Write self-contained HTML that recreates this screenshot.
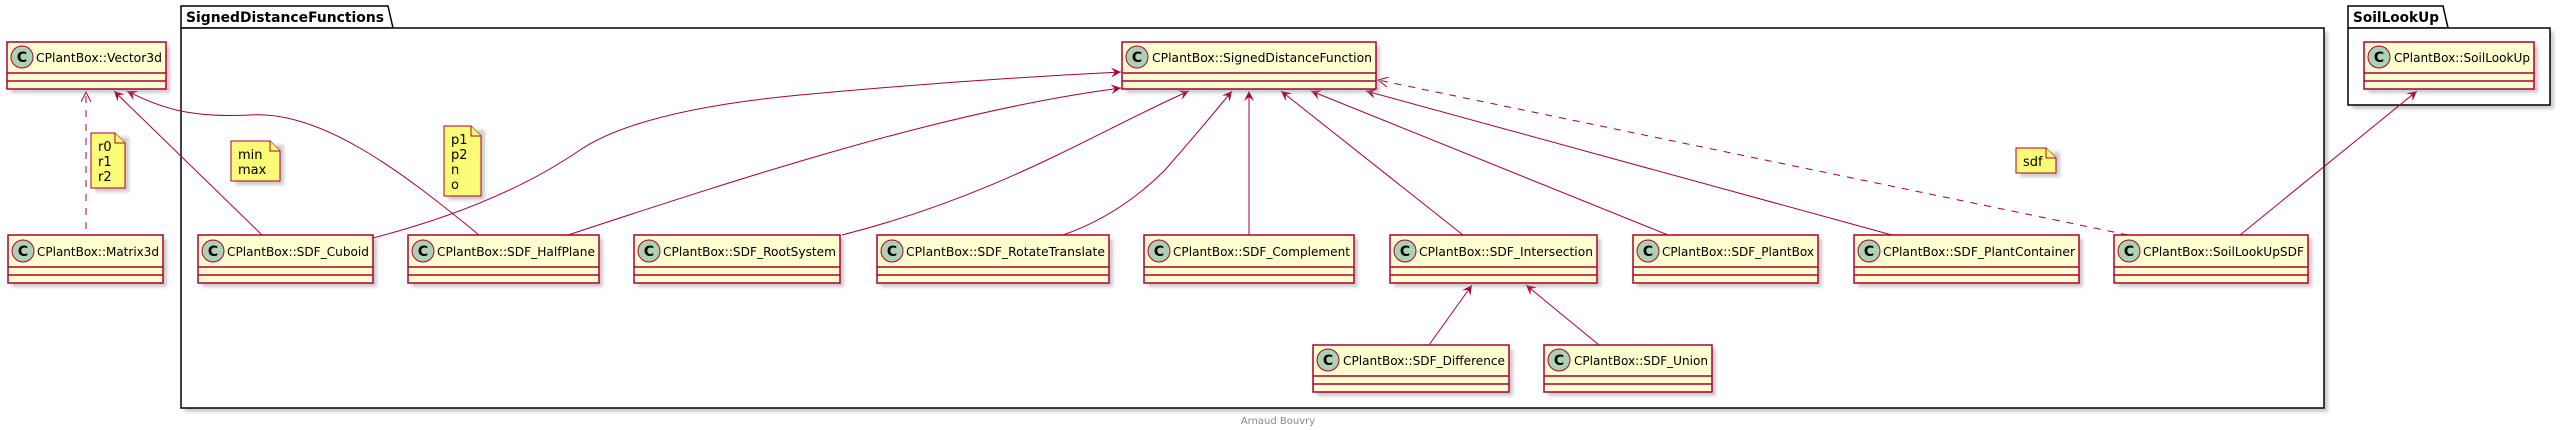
<!DOCTYPE html>
<html><head><meta charset="utf-8"><style>
html,body{margin:0;padding:0;background:#fff;}
svg{display:block;}
text{font-family:"DejaVu Sans","Liberation Sans",sans-serif;}
</style></head><body>
<svg width="2566" height="430" viewBox="0 0 2566 430" xmlns="http://www.w3.org/2000/svg">
<defs>
<marker id="ah" markerWidth="12" markerHeight="10" refX="10" refY="5" orient="auto" markerUnits="userSpaceOnUse">
<path d="M10,5 L0,0 L4,5 L0,10 Z" fill="#A80036"/>
</marker>
<marker id="ah2" markerWidth="12" markerHeight="10" refX="10" refY="5" orient="auto" markerUnits="userSpaceOnUse">
<path d="M0,0 L10,5 L0,10" fill="none" stroke="#A80036" stroke-width="1"/>
</marker>
<filter id="sh" x="-10%" y="-10%" width="130%" height="140%"><feGaussianBlur stdDeviation="1.5"/></filter>
</defs>

<g>
<rect x="185" y="32" width="2143" height="380" fill="#999" opacity="0.5" filter="url(#sh)"/>
<path d="M181,28 L181,6 L388,6 L393,28 Z" fill="#fff" stroke="#000" stroke-width="1.5"/>
<rect x="181" y="28" width="2143" height="380" fill="#fff" stroke="#000" stroke-width="1.5"/>
<text x="186" y="22" font-size="14" font-weight="bold" textLength="198" lengthAdjust="spacingAndGlyphs">SignedDistanceFunctions</text>

<rect x="2352" y="32" width="202" height="77" fill="#999" opacity="0.5" filter="url(#sh)"/>
<path d="M2348,28 L2348,6 L2443,6 L2448,28 Z" fill="#fff" stroke="#000" stroke-width="1.5"/>
<rect x="2348" y="28" width="202" height="77" fill="#fff" stroke="#000" stroke-width="1.5"/>
<text x="2353" y="22" font-size="14" font-weight="bold" textLength="86" lengthAdjust="spacingAndGlyphs">SoilLookUp</text>
</g>

<g fill="none" stroke="#A80036" stroke-width="1">
<path d="M86,229 L86,92" stroke-dasharray="7,7" marker-end="url(#ah2)"/>
<path d="M262,235 L114,91" marker-end="url(#ah)"/>
<path d="M479,235 C400,170 320,110 250,115 C190,118 160,108 127,91" marker-end="url(#ah)"/>
<path d="M373,238 Q500,205 580,150 Q640,110 800,95 Q960,80 1121,72" marker-end="url(#ah)"/>
<path d="M568,235 C750,175 950,110 1121,88" marker-end="url(#ah)"/>
<path d="M842,235 C1000,195 1100,130 1189,91" marker-end="url(#ah)"/>
<path d="M1063,235 Q1120,215 1165,170 Q1200,130 1232,91" marker-end="url(#ah)"/>
<path d="M1249,235 L1249,91" marker-end="url(#ah)"/>
<path d="M1463,235 L1281,91" marker-end="url(#ah)"/>
<path d="M1668,235 L1311,91" marker-end="url(#ah)"/>
<path d="M1892,235 L1366,91" marker-end="url(#ah)"/>
<path d="M2128,235 L1378,80" stroke-dasharray="7,7" marker-end="url(#ah2)"/>
<path d="M1429,345 L1472,285" marker-end="url(#ah)"/>
<path d="M1599,345 L1526,285" marker-end="url(#ah)"/>
<path d="M2240,235 L2417,91" marker-end="url(#ah)"/>
</g>

<g font-size="13" fill="#000">
<g>
<path d="M95,137 L129,137 L129,192 L95,192 Z" fill="#999" opacity="0.5" filter="url(#sh)"/>
<path d="M91,133 L115,133 L125,143 L125,188 L91,188 Z" fill="#FBFB77" stroke="#A80036"/>
<path d="M115,133 L115,143 L125,143" fill="#FBFB77" stroke="#A80036"/>
<text x="98" y="151">r0</text><text x="98" y="166">r1</text><text x="98" y="181">r2</text>
</g>
<g>
<path d="M235,145 L284,145 L284,185 L235,185 Z" fill="#999" opacity="0.5" filter="url(#sh)"/>
<path d="M231,141 L270,141 L280,151 L280,181 L231,181 Z" fill="#FBFB77" stroke="#A80036"/>
<path d="M270,141 L270,151 L280,151" fill="#FBFB77" stroke="#A80036"/>
<text x="238" y="159">min</text><text x="238" y="174">max</text>
</g>
<g>
<path d="M448,130 L485,130 L485,200 L448,200 Z" fill="#999" opacity="0.5" filter="url(#sh)"/>
<path d="M444,126 L471,126 L481,136 L481,196 L444,196 Z" fill="#FBFB77" stroke="#A80036"/>
<path d="M471,126 L471,136 L481,136" fill="#FBFB77" stroke="#A80036"/>
<text x="451" y="144">p1</text><text x="451" y="159">p2</text><text x="451" y="174">n</text><text x="451" y="189">o</text>
</g>
<g>
<path d="M2020,152 L2060,152 L2060,177 L2020,177 Z" fill="#999" opacity="0.5" filter="url(#sh)"/>
<path d="M2016,148 L2046,148 L2056,158 L2056,173 L2016,173 Z" fill="#FBFB77" stroke="#A80036"/>
<path d="M2046,148 L2046,158 L2056,158" fill="#FBFB77" stroke="#A80036"/>
<text x="2023" y="166">sdf</text>
</g>
</g>

<g font-size="12">
<g><rect x="11" y="46" width="159" height="47" fill="#999" opacity="0.5" filter="url(#sh)"/><rect x="7" y="42" width="159" height="47" fill="#FEFECE" stroke="#A80036" stroke-width="1.5"/><line x1="7" y1="73" x2="166" y2="73" stroke="#A80036" stroke-width="1.5"/><line x1="7" y1="81" x2="166" y2="81" stroke="#A80036" stroke-width="1.5"/><circle cx="22" cy="57" r="11" fill="#ADD1B2" stroke="#A80036"/><text x="22" y="62" font-size="14" font-weight="bold" text-anchor="middle">C</text><text x="36" y="62" textLength="126" lengthAdjust="spacingAndGlyphs">CPlantBox::Vector3d</text></g>

<g><rect x="12" y="239" width="155" height="48" fill="#999" opacity="0.5" filter="url(#sh)"/><rect x="8" y="235" width="155" height="48" fill="#FEFECE" stroke="#A80036" stroke-width="1.5"/><line x1="8" y1="267" x2="163" y2="267" stroke="#A80036" stroke-width="1.5"/><line x1="8" y1="275" x2="163" y2="275" stroke="#A80036" stroke-width="1.5"/><circle cx="23" cy="251" r="11" fill="#ADD1B2" stroke="#A80036"/><text x="23" y="256" font-size="14" font-weight="bold" text-anchor="middle">C</text><text x="37" y="256" textLength="122" lengthAdjust="spacingAndGlyphs">CPlantBox::Matrix3d</text></g>

<g><rect x="202" y="239" width="175" height="48" fill="#999" opacity="0.5" filter="url(#sh)"/><rect x="198" y="235" width="175" height="48" fill="#FEFECE" stroke="#A80036" stroke-width="1.5"/><line x1="198" y1="267" x2="373" y2="267" stroke="#A80036" stroke-width="1.5"/><line x1="198" y1="275" x2="373" y2="275" stroke="#A80036" stroke-width="1.5"/><circle cx="213" cy="251" r="11" fill="#ADD1B2" stroke="#A80036"/><text x="213" y="256" font-size="14" font-weight="bold" text-anchor="middle">C</text><text x="227" y="256" textLength="142" lengthAdjust="spacingAndGlyphs">CPlantBox::SDF_Cuboid</text></g>

<g><rect x="412" y="239" width="191" height="48" fill="#999" opacity="0.5" filter="url(#sh)"/><rect x="408" y="235" width="191" height="48" fill="#FEFECE" stroke="#A80036" stroke-width="1.5"/><line x1="408" y1="267" x2="599" y2="267" stroke="#A80036" stroke-width="1.5"/><line x1="408" y1="275" x2="599" y2="275" stroke="#A80036" stroke-width="1.5"/><circle cx="423" cy="251" r="11" fill="#ADD1B2" stroke="#A80036"/><text x="423" y="256" font-size="14" font-weight="bold" text-anchor="middle">C</text><text x="437" y="256" textLength="158" lengthAdjust="spacingAndGlyphs">CPlantBox::SDF_HalfPlane</text></g>

<g><rect x="638" y="239" width="206" height="48" fill="#999" opacity="0.5" filter="url(#sh)"/><rect x="634" y="235" width="206" height="48" fill="#FEFECE" stroke="#A80036" stroke-width="1.5"/><line x1="634" y1="267" x2="840" y2="267" stroke="#A80036" stroke-width="1.5"/><line x1="634" y1="275" x2="840" y2="275" stroke="#A80036" stroke-width="1.5"/><circle cx="649" cy="251" r="11" fill="#ADD1B2" stroke="#A80036"/><text x="649" y="256" font-size="14" font-weight="bold" text-anchor="middle">C</text><text x="663" y="256" textLength="173" lengthAdjust="spacingAndGlyphs">CPlantBox::SDF_RootSystem</text></g>

<g><rect x="881" y="239" width="232" height="48" fill="#999" opacity="0.5" filter="url(#sh)"/><rect x="877" y="235" width="232" height="48" fill="#FEFECE" stroke="#A80036" stroke-width="1.5"/><line x1="877" y1="267" x2="1109" y2="267" stroke="#A80036" stroke-width="1.5"/><line x1="877" y1="275" x2="1109" y2="275" stroke="#A80036" stroke-width="1.5"/><circle cx="892" cy="251" r="11" fill="#ADD1B2" stroke="#A80036"/><text x="892" y="256" font-size="14" font-weight="bold" text-anchor="middle">C</text><text x="906" y="256" textLength="199" lengthAdjust="spacingAndGlyphs">CPlantBox::SDF_RotateTranslate</text></g>

<g><rect x="1148" y="239" width="210" height="48" fill="#999" opacity="0.5" filter="url(#sh)"/><rect x="1144" y="235" width="210" height="48" fill="#FEFECE" stroke="#A80036" stroke-width="1.5"/><line x1="1144" y1="267" x2="1354" y2="267" stroke="#A80036" stroke-width="1.5"/><line x1="1144" y1="275" x2="1354" y2="275" stroke="#A80036" stroke-width="1.5"/><circle cx="1159" cy="251" r="11" fill="#ADD1B2" stroke="#A80036"/><text x="1159" y="256" font-size="14" font-weight="bold" text-anchor="middle">C</text><text x="1173" y="256" textLength="177" lengthAdjust="spacingAndGlyphs">CPlantBox::SDF_Complement</text></g>

<g><rect x="1394" y="239" width="207" height="48" fill="#999" opacity="0.5" filter="url(#sh)"/><rect x="1390" y="235" width="207" height="48" fill="#FEFECE" stroke="#A80036" stroke-width="1.5"/><line x1="1390" y1="267" x2="1597" y2="267" stroke="#A80036" stroke-width="1.5"/><line x1="1390" y1="275" x2="1597" y2="275" stroke="#A80036" stroke-width="1.5"/><circle cx="1405" cy="251" r="11" fill="#ADD1B2" stroke="#A80036"/><text x="1405" y="256" font-size="14" font-weight="bold" text-anchor="middle">C</text><text x="1419" y="256" textLength="174" lengthAdjust="spacingAndGlyphs">CPlantBox::SDF_Intersection</text></g>

<g><rect x="1637" y="239" width="185" height="48" fill="#999" opacity="0.5" filter="url(#sh)"/><rect x="1633" y="235" width="185" height="48" fill="#FEFECE" stroke="#A80036" stroke-width="1.5"/><line x1="1633" y1="267" x2="1818" y2="267" stroke="#A80036" stroke-width="1.5"/><line x1="1633" y1="275" x2="1818" y2="275" stroke="#A80036" stroke-width="1.5"/><circle cx="1648" cy="251" r="11" fill="#ADD1B2" stroke="#A80036"/><text x="1648" y="256" font-size="14" font-weight="bold" text-anchor="middle">C</text><text x="1662" y="256" textLength="152" lengthAdjust="spacingAndGlyphs">CPlantBox::SDF_PlantBox</text></g>

<g><rect x="1858" y="239" width="225" height="48" fill="#999" opacity="0.5" filter="url(#sh)"/><rect x="1854" y="235" width="225" height="48" fill="#FEFECE" stroke="#A80036" stroke-width="1.5"/><line x1="1854" y1="267" x2="2079" y2="267" stroke="#A80036" stroke-width="1.5"/><line x1="1854" y1="275" x2="2079" y2="275" stroke="#A80036" stroke-width="1.5"/><circle cx="1869" cy="251" r="11" fill="#ADD1B2" stroke="#A80036"/><text x="1869" y="256" font-size="14" font-weight="bold" text-anchor="middle">C</text><text x="1883" y="256" textLength="192" lengthAdjust="spacingAndGlyphs">CPlantBox::SDF_PlantContainer</text></g>

<g><rect x="2118" y="239" width="194" height="48" fill="#999" opacity="0.5" filter="url(#sh)"/><rect x="2114" y="235" width="194" height="48" fill="#FEFECE" stroke="#A80036" stroke-width="1.5"/><line x1="2114" y1="267" x2="2308" y2="267" stroke="#A80036" stroke-width="1.5"/><line x1="2114" y1="275" x2="2308" y2="275" stroke="#A80036" stroke-width="1.5"/><circle cx="2129" cy="251" r="11" fill="#ADD1B2" stroke="#A80036"/><text x="2129" y="256" font-size="14" font-weight="bold" text-anchor="middle">C</text><text x="2143" y="256" textLength="161" lengthAdjust="spacingAndGlyphs">CPlantBox::SoilLookUpSDF</text></g>

<g><rect x="1126" y="46" width="254" height="47" fill="#999" opacity="0.5" filter="url(#sh)"/><rect x="1122" y="42" width="254" height="47" fill="#FEFECE" stroke="#A80036" stroke-width="1.5"/><line x1="1122" y1="73" x2="1376" y2="73" stroke="#A80036" stroke-width="1.5"/><line x1="1122" y1="81" x2="1376" y2="81" stroke="#A80036" stroke-width="1.5"/><circle cx="1137" cy="57" r="11" fill="#ADD1B2" stroke="#A80036"/><text x="1137" y="62" font-size="14" font-weight="bold" text-anchor="middle">C</text><text x="1152" y="62" textLength="220" lengthAdjust="spacingAndGlyphs">CPlantBox::SignedDistanceFunction</text></g>

<g><rect x="1317" y="349" width="196" height="47" fill="#999" opacity="0.5" filter="url(#sh)"/><rect x="1313" y="345" width="196" height="47" fill="#FEFECE" stroke="#A80036" stroke-width="1.5"/><line x1="1313" y1="376" x2="1509" y2="376" stroke="#A80036" stroke-width="1.5"/><line x1="1313" y1="384" x2="1509" y2="384" stroke="#A80036" stroke-width="1.5"/><circle cx="1328" cy="360" r="11" fill="#ADD1B2" stroke="#A80036"/><text x="1328" y="365" font-size="14" font-weight="bold" text-anchor="middle">C</text><text x="1343" y="365" textLength="162" lengthAdjust="spacingAndGlyphs">CPlantBox::SDF_Difference</text></g>

<g><rect x="1548" y="349" width="168" height="47" fill="#999" opacity="0.5" filter="url(#sh)"/><rect x="1544" y="345" width="168" height="47" fill="#FEFECE" stroke="#A80036" stroke-width="1.5"/><line x1="1544" y1="376" x2="1712" y2="376" stroke="#A80036" stroke-width="1.5"/><line x1="1544" y1="384" x2="1712" y2="384" stroke="#A80036" stroke-width="1.5"/><circle cx="1559" cy="360" r="11" fill="#ADD1B2" stroke="#A80036"/><text x="1559" y="365" font-size="14" font-weight="bold" text-anchor="middle">C</text><text x="1574" y="365" textLength="134" lengthAdjust="spacingAndGlyphs">CPlantBox::SDF_Union</text></g>

<g><rect x="2368" y="46" width="170" height="47" fill="#999" opacity="0.5" filter="url(#sh)"/><rect x="2364" y="42" width="170" height="47" fill="#FEFECE" stroke="#A80036" stroke-width="1.5"/><line x1="2364" y1="73" x2="2534" y2="73" stroke="#A80036" stroke-width="1.5"/><line x1="2364" y1="81" x2="2534" y2="81" stroke="#A80036" stroke-width="1.5"/><circle cx="2379" cy="57" r="11" fill="#ADD1B2" stroke="#A80036"/><text x="2379" y="62" font-size="14" font-weight="bold" text-anchor="middle">C</text><text x="2394" y="62" textLength="136" lengthAdjust="spacingAndGlyphs">CPlantBox::SoilLookUp</text></g>
</g>

<text x="1278" y="424" font-size="10" fill="#888" text-anchor="middle">Arnaud Bouvry</text>
</svg>
</body></html>
